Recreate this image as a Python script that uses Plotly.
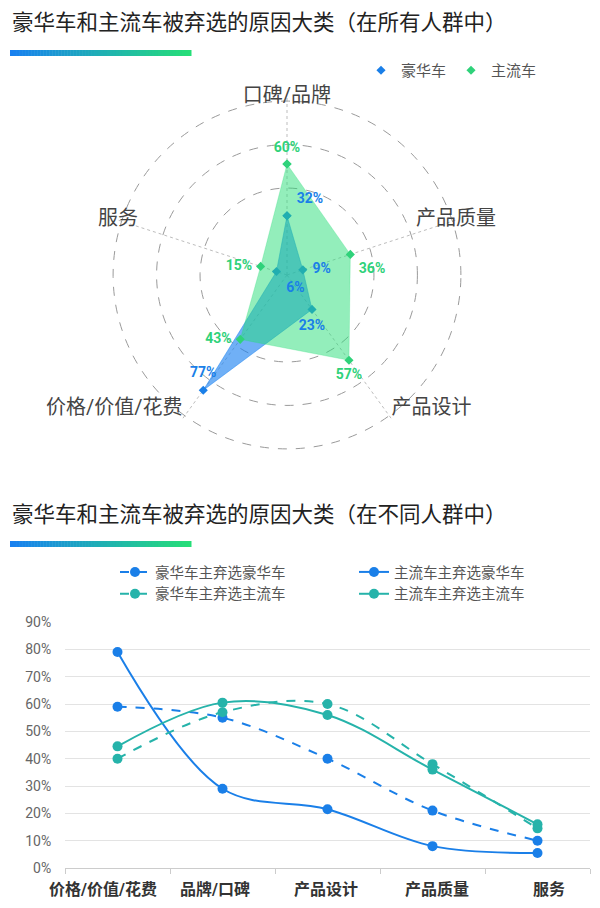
import plotly.graph_objects as go

# ---- data: radar (all people) ----
radar_cats = ['口碑/品牌', '产品质量', '产品设计', '价格/价值/花费', '服务']
luxury_all = [32, 9, 23, 77, 6]
mainstream_all = [60, 36, 57, 43, 15]
luxury_pos = ['top right', 'middle right', 'bottom center', 'top center', 'bottom right']
mainstream_pos = ['top center', 'bottom right', 'bottom center', 'middle left', 'middle left']
cat_pos = ['middle center', 'middle center', 'top right', 'top left', 'middle center']

# ---- data: lines (different groups) ----
line_cats = ['价格/价值/花费', '品牌/口碑', '产品设计', '产品质量', '服务']
lux_owner_lux = [59, 55, 40, 21, 10]
main_owner_lux = [79, 29, 21.5, 8, 5.5]
lux_owner_main = [40, 57, 60, 38, 14.5]
main_owner_main = [44.5, 60.5, 56, 36, 16]
label_shift = [-15, -8, -2, 4, 11]  # reference labels sit slightly off the point columns

BLUE = '#1a7fe8'
GREEN = '#2fd27a'
TEAL = '#26b3aa'
FONT = 'Roboto, Noto Sans CJK SC, sans-serif'
W, H = 600, 908
R_MAX = 96


# page has an 8px body margin, so place things in screen pixels minus 8
def fx(px):
    return (px - 8) / W


def fy(py):
    return 1 - (py - 8) / H


fig = go.Figure()

# radar fills
fig.add_trace(go.Scatterpolar(
    r=luxury_all + luxury_all[:1], theta=radar_cats + radar_cats[:1],
    mode='lines+markers', fill='toself', fillcolor='rgba(24,128,240,0.62)',
    line=dict(color='rgba(24,128,240,0.6)', width=0.8),
    marker=dict(symbol='diamond', size=7, color=BLUE),
    showlegend=False, hoverinfo='skip'))
fig.add_trace(go.Scatterpolar(
    r=mainstream_all + mainstream_all[:1], theta=radar_cats + radar_cats[:1],
    mode='lines+markers', fill='toself', fillcolor='rgba(40,222,120,0.5)',
    line=dict(color='rgba(40,222,120,0.5)', width=0.5),
    marker=dict(symbol='diamond', size=7, color=GREEN),
    showlegend=False, hoverinfo='skip'))
# radar value labels (invisible markers push the text away from the points)
fig.add_trace(go.Scatterpolar(
    r=luxury_all, theta=radar_cats, mode='markers+text',
    marker=dict(size=14, color='rgba(0,0,0,0)'),
    text=['<b>%d%%</b>' % v for v in luxury_all], textposition=luxury_pos,
    textfont=dict(size=14, color=BLUE, family=FONT), showlegend=False, hoverinfo='skip'))
fig.add_trace(go.Scatterpolar(
    r=mainstream_all, theta=radar_cats, mode='markers+text',
    marker=dict(size=12, color='rgba(0,0,0,0)'),
    text=['<b>%d%%</b>' % v for v in mainstream_all], textposition=mainstream_pos,
    textfont=dict(size=14, color=GREEN, family=FONT), showlegend=False, hoverinfo='skip'))
# category names at the spoke ends
fig.add_trace(go.Scatterpolar(
    r=[R_MAX] * len(radar_cats), theta=radar_cats, mode='text', text=radar_cats,
    textposition=cat_pos, textfont=dict(size=20, color='#444', family=FONT),
    cliponaxis=False, showlegend=False, hoverinfo='skip'))
# radar legend entries
fig.add_trace(go.Scatterpolar(r=[None], theta=[None], mode='markers', name='豪华车',
                              marker=dict(symbol='diamond', size=7, color=BLUE), legend='legend'))
fig.add_trace(go.Scatterpolar(r=[None], theta=[None], mode='markers', name='主流车',
                              marker=dict(symbol='diamond', size=7, color=GREEN), legend='legend'))

# line chart
series = [
    ('豪华车主弃选豪华车', lux_owner_lux, BLUE, 'dash'),
    ('主流车主弃选豪华车', main_owner_lux, BLUE, 'solid'),
    ('豪华车主弃选主流车', lux_owner_main, TEAL, 'dash'),
    ('主流车主弃选主流车', main_owner_main, TEAL, 'solid'),
]
for name, vals, color, dash in series:
    fig.add_trace(go.Scatter(
        x=line_cats, y=vals, name=name, mode='lines+markers',
        line=dict(color=color, width=2, dash=dash, shape='spline', smoothing=1.0),
        marker=dict(size=10, color=color), legend='legend2'))

# gradient bars under titles
shapes = []
n = 60
c0 = (24, 128, 240)
c1 = (38, 222, 120)
for top in (50, 541):
    for i in range(n):
        t = i / (n - 1)
        col = 'rgb(%d,%d,%d)' % tuple(round(a + (b - a) * t) for a, b in zip(c0, c1))
        x0 = 10 + 181 * i / n
        x1 = 10 + 181 * (i + 1) / n + 0.5
        shapes.append(dict(type='rect', xref='paper', yref='paper',
                           x0=fx(x0), x1=fx(x1), y0=fy(top + 6), y1=fy(top),
                           line=dict(width=0), fillcolor=col, layer='below'))

annotations = [
    dict(text='豪华车和主流车被弃选的原因大类（在所有人群中）', x=fx(10), y=fy(22),
         xref='paper', yref='paper', xanchor='left', yanchor='middle', showarrow=False,
         font=dict(size=21.5, color='#222', family=FONT)),
    dict(text='豪华车和主流车被弃选的原因大类（在不同人群中）', x=fx(10), y=fy(515),
         xref='paper', yref='paper', xanchor='left', yanchor='middle', showarrow=False,
         font=dict(size=21.5, color='#222', family=FONT)),
]
# x category labels of the line chart
for cat, dx in zip(line_cats, label_shift):
    annotations.append(dict(text=cat, x=cat, xref='x', y=fy(889), yref='paper',
                            xanchor='center', yanchor='middle', xshift=dx, showarrow=False,
                            font=dict(size=16, color='#333', family=FONT, weight='bold')))

cx, cy, rad = 287, 275, 177.6

fig.update_layout(
    width=W, height=H, margin=dict(l=0, r=0, t=0, b=0, autoexpand=False),
    paper_bgcolor='white', plot_bgcolor='white',
    font=dict(family=FONT, color='#555'),
    shapes=shapes, annotations=annotations,
    polar=dict(
        domain=dict(x=[fx(cx - rad), fx(cx + rad)], y=[fy(cy + rad), fy(cy - rad)]),
        bgcolor='rgba(0,0,0,0)',
        radialaxis=dict(range=[0, R_MAX], tickvals=[47, 70.5, 94], showticklabels=False,
                        ticks='', showline=False, gridcolor='#9a9a9a', griddash='dash', gridwidth=1),
        angularaxis=dict(rotation=90, direction='clockwise', categoryorder='array',
                         categoryarray=radar_cats, showline=False, gridcolor='#bdbdbd',
                         griddash='dot', ticks='', showticklabels=False),
    ),
    legend=dict(orientation='h', x=fx(542), xanchor='right', y=fy(54), yanchor='top',
                font=dict(size=15, color='#555', family=FONT), bgcolor='rgba(0,0,0,0)'),
    legend2=dict(orientation='h', x=fx(115), xanchor='left', y=fy(556), yanchor='top',
                 entrywidth=194, entrywidthmode='pixels', itemwidth=30,
                 font=dict(size=14.5, color='#555', family=FONT), bgcolor='rgba(0,0,0,0)'),
    xaxis=dict(domain=[fx(65), fx(590)], range=[-0.5, 4.5], showgrid=False, automargin=False,
               showline=True, linecolor='#cccccc', ticks='outside', tickson='boundaries',
               ticklen=5, tickcolor='#cccccc', showticklabels=False),
    yaxis=dict(domain=[fy(868), fy(622)], range=[0, 90], dtick=10, ticksuffix='%',
               showgrid=True, gridcolor='#e3e3e3', zeroline=False, showline=False, automargin=False,
               ticks='outside', ticklen=10, tickcolor='rgba(0,0,0,0)',
               tickfont=dict(size=14, color='#666', family=FONT)),
)

fig.write_html('out.html')
